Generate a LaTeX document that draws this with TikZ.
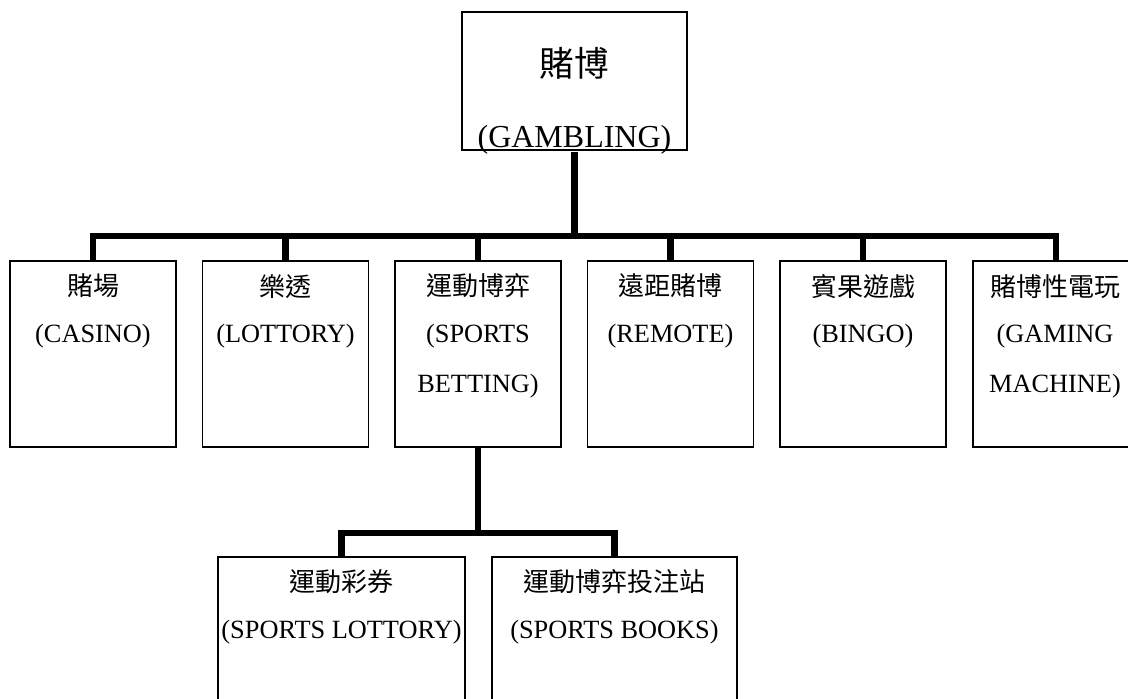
\documentclass[tikz,border=0pt]{standalone}
\usepackage{fontspec}
\setmainfont{Liberation Serif}
\newfontfamily\cjk{Noto Sans CJK TC}
\begin{document}
\begin{tikzpicture}[x=0.75pt,y=-0.75pt,
  box/.style={draw=black,line width=1.3pt,fill=white,inner sep=0pt,minimum width=124.5pt,minimum height=139.5pt},
  wbox/.style={draw=black,line width=1.3pt,fill=white,inner sep=0pt,minimum height=141pt},
  zh/.style={inner sep=0pt,font=\cjk\fontsize{19.5pt}{22pt}\selectfont},
  en/.style={inner sep=0pt,anchor=base,font=\fontsize{19.75pt}{22pt}\selectfont},
  conn/.style={line width=4.8pt},
  bar/.style={line width=4.8pt,line cap=rect}]
\useasboundingbox (0,0) rectangle (1128,699);
\fill[white] (0,0) rectangle (1128,699);
% top
\node[draw=black,line width=1.3pt,inner sep=0pt,minimum width=168.75pt,minimum height=103.5pt] (top) at (574.5,81) {};
\node[inner sep=0pt,font=\cjk\fontsize{26pt}{30pt}\selectfont] (topzh) at (574.5,63) {賭博};
% second row
\node[box] (b1) at (93,354) {};
\node[box] (b2) at (285.5,354) {};
\node[box] (b3) at (478,354) {};
\node[box] (b4) at (670.5,354) {};
\node[box] (b5) at (863,354) {};
\node[box] (b6) at (1056,354) {};
% third row
\node[wbox,minimum width=185.25pt] (b7) at (341.5,651) {};
\node[wbox,minimum width=183.75pt] (b8) at (614.5,651) {};
% connectors
\coordinate (j0) at (574.5,236);
\coordinate (jl) at (93,236);
\coordinate (jr) at (1056,236);
\draw[conn] ([yshift=-0.6pt]top.south) -- ([yshift=-2.4pt]j0);
\draw[bar] (jl) -- (jr);
\foreach \b in {b1,b2,b3,b4,b5,b6}{
  \draw[conn] (\b.north |- j0) -- (\b.north);
}
\coordinate (k0) at (478,533);
\coordinate (kl) at (341.5,533);
\coordinate (kr) at (614.5,533);
\draw[conn] (b3.south) -- (k0);
\draw[bar] (kl) -- (kr);
\draw[conn] (kl) -- (b7.north);
\draw[conn] (kr) -- (b8.north);
% labels
\node[inner sep=0pt,anchor=base,font=\fontsize{24pt}{28pt}\selectfont] (topen) at (574.5,147) {(GAMBLING)};
\node[zh] (t1) at ([yshift=-19.5pt]b1.north) {賭場};
\node[en] (e1) at ([yshift=-61.5pt]b1.north) {(CASINO)};
\node[zh] (t2) at ([yshift=-19.5pt]b2.north) {樂透};
\node[en] (e2) at ([yshift=-61.5pt]b2.north) {(LOTTORY)};
\node[zh] (t3) at ([yshift=-19.5pt]b3.north) {運動博弈};
\node[en] (e3) at ([yshift=-61.5pt]b3.north) {(SPORTS};
\node[en] (f3) at ([yshift=-99pt]b3.north) {BETTING)};
\node[zh] (t4) at ([yshift=-19.5pt]b4.north) {遠距賭博};
\node[en] (e4) at ([yshift=-61.5pt]b4.north) {(REMOTE)};
\node[zh] (t5) at ([yshift=-19.5pt]b5.north) {賓果遊戲};
\node[en] (e5) at ([yshift=-61.5pt]b5.north) {(BINGO)};
\node[zh,anchor=west] (t6) at (990,287) {賭博性電玩};
\node[en] (e6) at (1055,342) {(GAMING};
\node[en] (f6) at (1055,392) {MACHINE)};
\node[zh] (t7) at ([yshift=-19.5pt]b7.north) {運動彩券};
\node[en] (e7) at ([yshift=-62pt]b7.north) {(SPORTS LOTTORY)};
\node[zh] (t8) at ([yshift=-19.5pt]b8.north) {運動博弈投注站};
\node[en] (e8) at ([yshift=-62pt]b8.north) {(SPORTS BOOKS)};
\end{tikzpicture}
\end{document}
